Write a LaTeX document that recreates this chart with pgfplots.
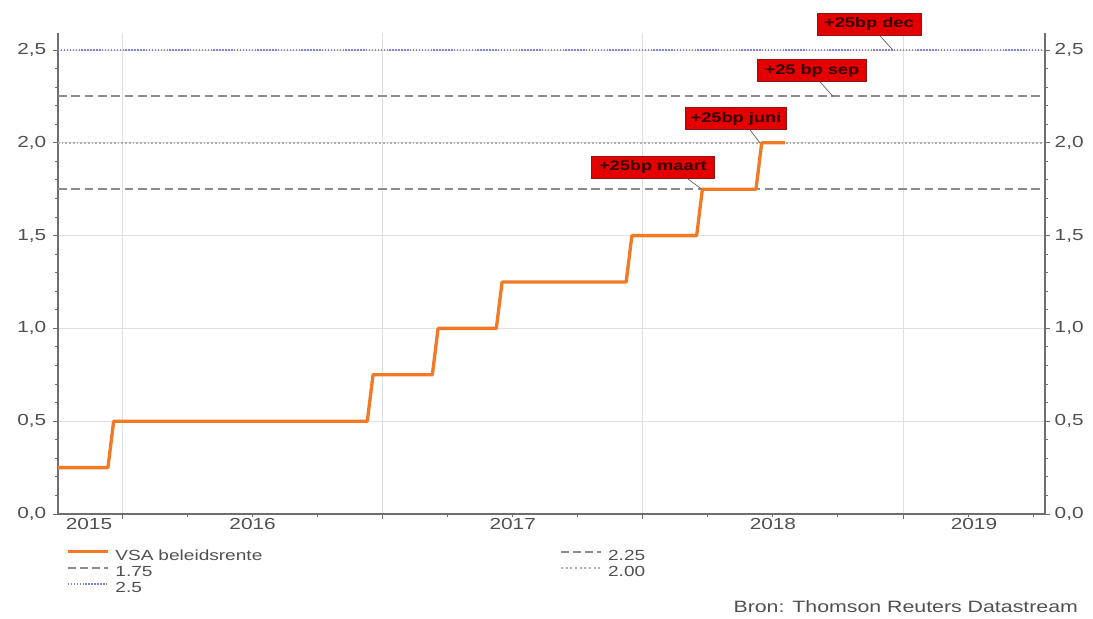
\documentclass[border=0pt]{standalone}
\usepackage{fontspec}
\setmainfont{Liberation Sans}
\newfontfamily\wf{Liberation Sans}[FakeStretch=1.3]
\usepackage{pgfplots}
\pgfplotsset{compat=1.18}

\definecolor{vsa}{RGB}{240,122,38}
\definecolor{dashgray}{RGB}{140,140,140}
\definecolor{dotgray}{RGB}{175,175,175}
\definecolor{dotblue}{RGB}{130,130,215}
\definecolor{gridgray}{RGB}{224,224,224}
\definecolor{axisgray}{RGB}{110,110,110}
\definecolor{labelgray}{RGB}{80,80,80}
\definecolor{boxred}{RGB}{228,0,0}
\definecolor{boxtext}{RGB}{55,0,0}

\pgfplotsset{
  common/.style={
    at={(43.5pt,78pt)}, anchor=south west, scale only axis,
    width=740.25pt, height=360.75pt,
    xmin=2015.752, xmax=2019.546, ymin=0, ymax=2.5916,
    tick align=outside, major tick length=3.75pt, minor tick length=2.2pt,
    every tick/.style={axisgray, line width=0.7pt},
    axis line style={draw=axisgray, line width=0.9pt},
    ytick={0,0.5,1,1.5,2,2.5}, minor y tick num=4,
    tick label style={font=\wf\fontsize{12}{14}\selectfont, text=labelgray},
    /pgf/number format/assume math mode=true,
    yticklabel style={/pgf/number format/fixed, /pgf/number format/fixed zerofill,
      /pgf/number format/precision=1, /pgf/number format/use comma},
  }
}

\begin{document}
\begin{tikzpicture}
\useasboundingbox (0,0) rectangle (819.75pt,463.5pt);

\begin{axis}[common,
  axis x line*=bottom, axis y line*=left,
  yticklabel style={/tikz/xshift=-1.5pt},
  xtick={2016,2017,2018,2019}, xticklabels={,,,},
  minor xtick={2015.75,2016.25,2016.5,2016.75,2017.25,2017.5,2017.75,2018.25,2018.5,2018.75,2019.25,2019.5},
  extra x ticks={2015.871,2016.5,2017.5,2018.5,2019.273},
  extra x tick labels={2015,2016,2017,2018,2019},
  extra x tick style={major tick length=0pt, grid=none},
  xmajorgrids, ymajorgrids, grid style={gridgray, line width=0.6pt},
  clip=false,
  legend columns=2,
  legend cell align=left,
  legend image code/.code={\draw[#1] (0pt,3.5pt) -- (30pt,3.5pt);},
  legend style={at={(axis description cs:0.0081,-0.0707)}, anchor=north west,
    draw=none, fill=none, inner sep=0pt, column sep=0pt,
    font=\wf\fontsize{11}{12}\selectfont, text=labelgray,
    nodes={text width=329pt, inner xsep=4.5pt, inner ysep=1pt, text height=8pt, text depth=2pt}},
]
\addlegendimage{vsa, line width=2.4pt}
\addlegendentry{VSA beleidsrente}
\addplot[dashgray, line width=1.6pt, dash pattern=on 6.5pt off 3.5pt,
  legend image post style={dash pattern=on 6pt off 3pt, line width=1.4pt}] coordinates {(2015.752,2.25) (2019.546,2.25)};
\addlegendentry{2.25}
\addplot[dashgray, line width=1.6pt, dash pattern=on 6.5pt off 3.5pt,
  legend image post style={dash pattern=on 6pt off 3pt, line width=1.4pt}] coordinates {(2015.752,1.75) (2019.546,1.75)};
\addlegendentry{1.75}
\addplot[dotgray, line width=1.5pt, dash pattern=on 1.3pt off 1.5pt,
  legend image post style={dash pattern=on 1.3pt off 2.2pt}] coordinates {(2015.752,2.0) (2019.546,2.0)};
\addlegendentry{2.00}
\addplot[dotblue, line width=1.5pt, dash pattern=on 1.1pt off 1.1pt] coordinates {(2015.752,2.5) (2019.546,2.5)};
\addlegendentry{2.5}

\addplot[vsa, line width=2.5pt, line join=round, forget plot] coordinates {
 (2015.752,0.25) (2015.944,0.25) (2015.966,0.5)
 (2016.941,0.5) (2016.963,0.75)
 (2017.191,0.75) (2017.213,1.0)
 (2017.437,1.0) (2017.459,1.25)
 (2017.936,1.25) (2017.958,1.5)
 (2018.207,1.5) (2018.229,1.75)
 (2018.435,1.75) (2018.457,2.0)
 (2018.546,2.0)
};

\tikzset{ann/.style={fill=boxred, draw={rgb,255:red,140;green,20;blue,20}, line width=0.5pt,
   font=\wf\bfseries\fontsize{10.5}{12}\selectfont, text=boxtext, minimum height=16.5pt, inner xsep=2pt},
   ptr/.style={draw={rgb,255:red,90;green,90;blue,90}, line width=0.5pt}}
\node[ann, minimum width=92pt] (m) at (axis cs:2018.039,1.870) {+25bp maart};
\draw[ptr] ([xshift=25.5pt]m.south) -- (axis cs:2018.227,1.75);
\node[ann, minimum width=76pt] (j) at (axis cs:2018.358,2.131) {+25bp juni};
\draw[ptr] ([xshift=10.5pt]j.south) -- (axis cs:2018.45,2.0);
\node[ann, minimum width=82pt] (s) at (axis cs:2018.650,2.390) {+25 bp sep};
\draw[ptr] ([xshift=6pt]s.south) -- (axis cs:2018.731,2.25);
\node[ann, minimum width=78pt] (d) at (axis cs:2018.869,2.640) {+25bp dec};
\draw[ptr] ([xshift=8pt]d.south) -- (axis cs:2018.961,2.5);
\end{axis}

\begin{axis}[common,
  axis x line=none, axis y line*=right,
]
\addplot[draw=none, forget plot] coordinates {(2016,0)};
\end{axis}

\node[anchor=east, font=\wf\fontsize{12.3}{14}\selectfont, text=labelgray] at (812pt,8.25pt) {Bron: Thomson Reuters Datastream};
\end{tikzpicture}
\end{document}
